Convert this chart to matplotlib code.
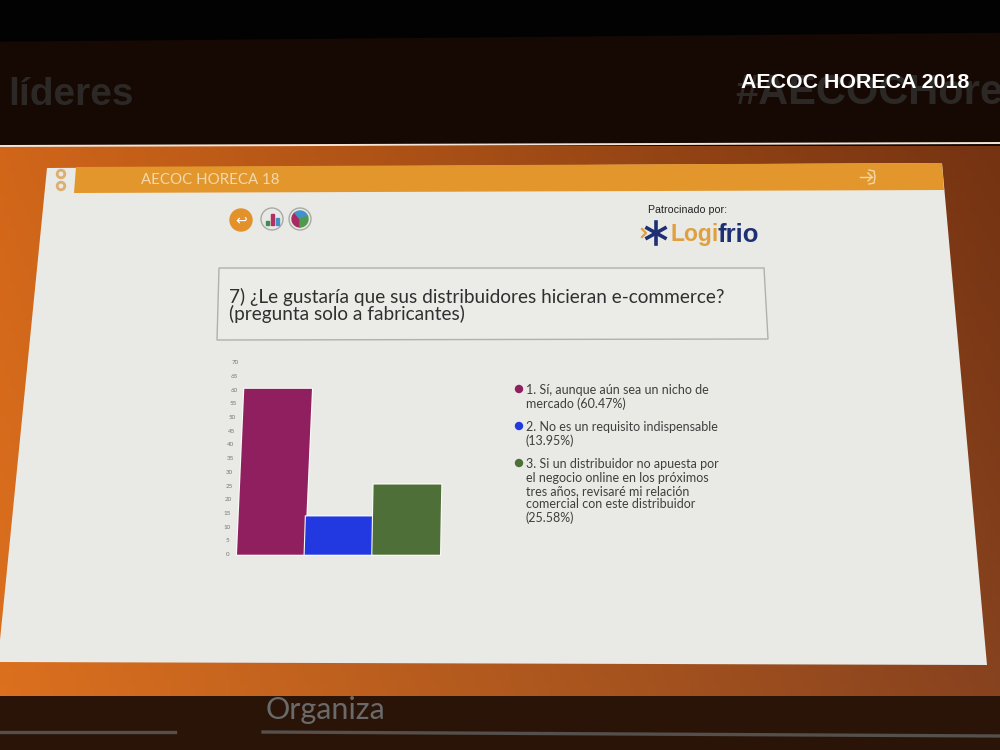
import numpy as np
import matplotlib
matplotlib.use("Agg")
import matplotlib.pyplot as plt
import matplotlib.patheffects as pe
from matplotlib.patches import Polygon, Circle, Wedge
from matplotlib.transforms import Affine2D

# values
options = ["1", "2", "3"]
percent = [60.47, 13.95, 25.58]
bar_colors = ["#8f1f5f", "#2238e0", "#4f6f38"]
bar_slant = [0.044, 0.032, 0.018]
y_ticks = list(range(0, 71, 5))
legend_lines = [
    ["1. Sí, aunque aún sea un nicho de", "mercado (60.47%)"],
    ["2. No es un requisito indispensable", "(13.95%)"],
    ["3. Si un distribuidor no apuesta por", "el negocio online en los próximos",
     "tres años, revisaré mi relación", "comercial con este distribuidor", "(25.58%)"],
]
legend_tops = [390, 427, 464]

plt.rcParams["font.family"] = ["Lato", "DejaVu Sans"]
fig = plt.figure(figsize=(10, 7.5), dpi=100)

# whole photo drawn in pixel coordinates
bg = fig.add_axes([0, 0, 1, 1])
bg.axis("off")

# dark room above and below the screen
bg.add_patch(Polygon([(0, 0), (1000, 0), (1000, 145), (0, 145)], color="#160803", zorder=0))
bg.add_patch(Polygon([(0, 0), (1000, 0), (1000, 32), (0, 41)], color="#020202", zorder=0))
bg.add_patch(Polygon([(0, 696), (1000, 696), (1000, 750), (0, 750)], color="#2a1408", zorder=0))

# orange screen, four corner colours blended
gx, gy = np.meshgrid(np.linspace(0, 1, 200), np.linspace(0, 1, 100))
c_tl = np.array([0.82, 0.40, 0.10])
c_tr = np.array([0.46, 0.20, 0.07])
c_bl = np.array([0.86, 0.44, 0.12])
c_br = np.array([0.53, 0.26, 0.12])
gx = gx[:, :, None]
gy = gy[:, :, None]
rgb = (c_tl * (1 - gx) + c_tr * gx) * (1 - gy) + (c_bl * (1 - gx) + c_br * gx) * gy
bg.imshow(rgb, extent=[0, 1000, 696, 146], aspect="auto", zorder=1)
bg.set_xlim(0, 1000)
bg.set_ylim(750, 0)
bg.plot([0, 1000], [146, 143], color="#f2e4d6", lw=1.4, zorder=2)

# slide
bg.add_patch(Polygon([(47, 168), (942, 163), (987, 665), (0, 662), (0, 640)],
                     facecolor="#e9e9e5", edgecolor="none", zorder=2))
bg.add_patch(Polygon([(76, 167), (942, 163), (944, 190), (74, 193)],
                     facecolor="#e3962b", edgecolor="none", zorder=3))

bg.text(210, 180, "AECOC HORECA 18", color="#f1d9ae", fontsize=10.8, ha="center", va="center", zorder=4)
for cy in (174, 186):
    bg.add_patch(Circle((61, cy), 3.8, facecolor="none", edgecolor="#dcae70", lw=2, zorder=4))

# exit icon in the header
bg.plot([860, 872], [177, 177], color="#f3d9a8", lw=1, zorder=4)
bg.plot([868, 872, 868], [173, 177, 181], color="#f3d9a8", lw=1, zorder=4)
bg.plot([869, 874, 875, 874, 869], [170, 171, 177, 183, 184], color="#f3d9a8", lw=1, zorder=4)

# round buttons
bg.add_patch(Circle((241, 220), 11, color="#e3912a", zorder=4))
bg.text(241, 220, "↩", color="white", fontsize=10, ha="center", va="center", zorder=5,
        family="DejaVu Sans")
bg.add_patch(Circle((272, 219), 11, facecolor="#e8e8e4", edgecolor="#a9a9a6", lw=1, zorder=4))
for bx, bh, c in zip((267, 272, 277), (4, 11, 7), ("#3a8f4e", "#b03060", "#3f93c9")):
    bg.add_patch(Polygon([(bx - 1.5, 225), (bx + 1.5, 225), (bx + 1.5, 225 - bh), (bx - 1.5, 225 - bh)],
                         color=c, zorder=5))
bg.add_patch(Circle((300, 219), 11, facecolor="#e8e8e4", edgecolor="#a9a9a6", lw=1, zorder=4))
bg.add_patch(Wedge((300, 219), 8, 90, 230, color="#a82a60", zorder=5))
bg.add_patch(Wedge((300, 219), 8, 230, 340, color="#3f93c9", zorder=5))
bg.add_patch(Wedge((300, 219), 8, 340, 450, color="#4f9a4e", zorder=5))

# sponsor
bg.text(688, 210, "Patrocinado por:", color="#222222", fontsize=7.7, family="Liberation Sans",
        ha="center", va="center", zorder=4)
bg.text(671, 235, "Logi", color="#e0a040", fontsize=16.5, weight="bold", family="Liberation Sans",
        ha="left", va="center", zorder=4)
bg.text(717, 235, "frio", color="#1f2f73", fontsize=18.5, weight="bold", family="Liberation Sans",
        ha="left", va="center", zorder=4)
for dx, dy in ((0, 11), (9, 5), (9, -5)):
    bg.plot([656 - dx, 656 + dx], [233 - dy, 233 + dy], color="#1f2f73", lw=2.6, zorder=4)
bg.plot([642, 646, 642], [229, 233, 237], color="#e0a040", lw=1.6, zorder=4)

# question box
bg.add_patch(Polygon([(219, 268), (764, 268), (768, 339), (217, 340)],
                     facecolor="#ebebe7", edgecolor="#b0b0ac", lw=1, zorder=3))
bg.text(229, 297, "7) ¿Le gustaría que sus distribuidores hicieran e-commerce?",
        color="#303030", fontsize=13.7, ha="left", va="center", zorder=4)
bg.text(229, 314, "(pregunta solo a fabricantes)",
        color="#303030", fontsize=13.7, ha="left", va="center", zorder=4)

# legend text
for lines, ytop, col in zip(legend_lines, legend_tops, bar_colors):
    bg.add_patch(Circle((519, ytop - 1), 3.5, color=col, zorder=4))
    for i, line in enumerate(lines):
        bg.text(526, ytop + i * 13.5, line, color="#3f3f3f", fontsize=9,
                ha="left", va="center", zorder=4)

# room text
bg.text(8, 95, "líderes", color="#2b2826", fontsize=28, weight="bold", family="Liberation Sans",
        ha="left", va="center", zorder=3)
bg.text(735, 93, "#AECOCHore", color="#2b2826", fontsize=30, weight="bold", family="Liberation Sans",
        ha="left", va="center", zorder=3, clip_on=True)
bg.text(855, 82, "AECOC HORECA 2018", color="white", fontsize=15.4, weight="bold",
        family="Liberation Sans", ha="center", va="center", zorder=4)
bg.text(266, 710, "Organiza", color="#6a6a6a", fontsize=22, ha="left", va="center", zorder=3)
bg.plot([0, 175], [732, 732], color="#55504c", lw=2.4, zorder=3)
bg.plot([263, 1000], [732, 736], color="#55504c", lw=2.4, zorder=3)

# chart, y=0 at pixel 554.7 and y=70 at pixel 362.7
base_y = 750 - 554.7
ax = fig.add_axes([237 / 1000, 1 - 554.7 / 750, 203 / 1000, 192 / 750])
ax.patch.set_alpha(0)


def slant(k):
    # photo is taken at an angle, so verticals lean to the right
    return ax.transData + Affine2D.from_values(1, 0, k, 1, -k * base_y, 0)


bars = ax.bar(options, percent, width=1.0, color=bar_colors)
ax.set_xlim(-0.5, 2.5)
ax.set_ylim(0, 70)
for bar, k in zip(bars, bar_slant):
    bar.set_transform(slant(k))
    bar.set_clip_on(False)
    bar.set_path_effects([pe.withStroke(linewidth=1.6, foreground="#fbfbf8")])

ax.set_xticks([])
ax.set_yticks([])
for v in y_ticks:
    ax.text(-0.5 - 8 / 67.7, v, str(v), transform=slant(0.052), ha="right", va="center",
            fontsize=4.5, color="#777777", clip_on=False)
for s in ax.spines.values():
    s.set_visible(False)

fig.savefig("out.png", dpi=100)
